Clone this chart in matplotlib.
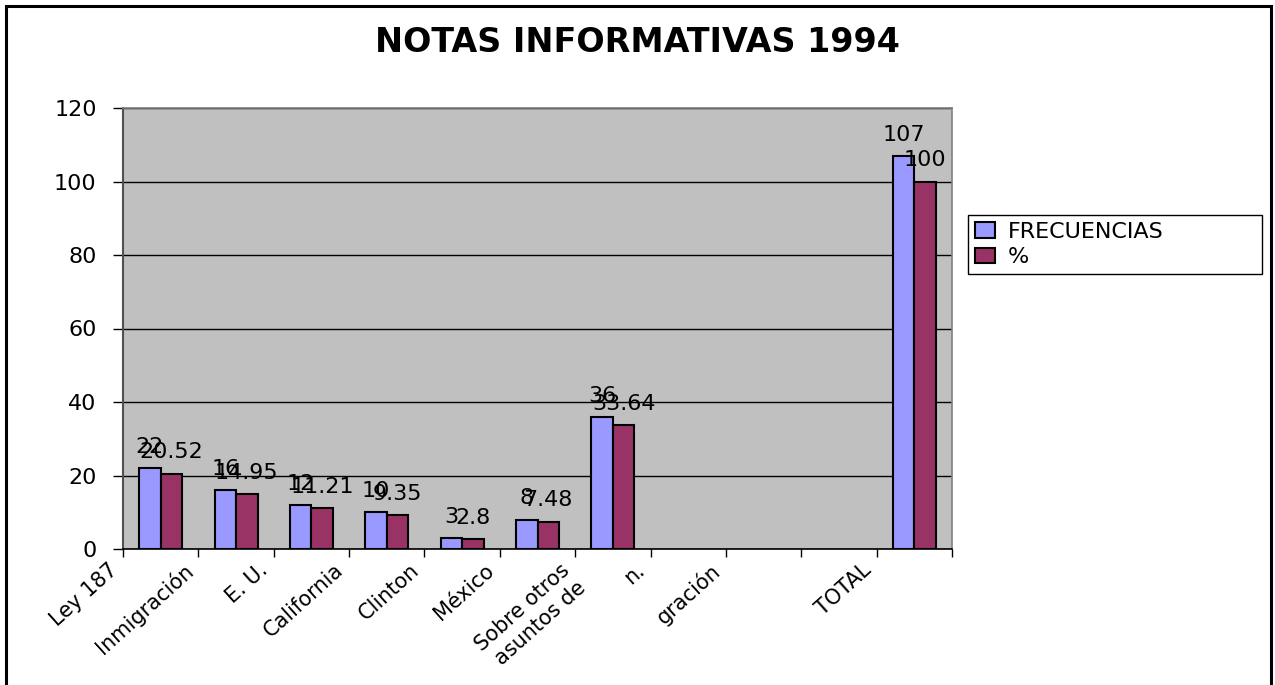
import numpy as np
import matplotlib as mpl
mpl.use('Agg')
import matplotlib.pyplot as plt
import matplotlib.transforms as mtransforms
from matplotlib.patches import Rectangle

# data (empty slots are blank categories in the sheet)
categories = ["Ley 187", "Inmigración", "E. U.", "California", "Clinton", "México",
              "Sobre otros\nasuntos de", "n.", "gración", "", "TOTAL"]
frecuencias = [22, 16, 12, 10, 3, 8, 36, np.nan, np.nan, np.nan, 107]
porcentajes = [20.52, 14.95, 11.21, 9.35, 2.8, 7.48, 33.64, np.nan, np.nan, np.nan, 100]
series_names = ["FRECUENCIAS", "%"]
yticks = [0, 20, 40, 60, 80, 100, 120]

plt.rcParams['font.family'] = ['DejaVu Sans']

fig = plt.figure(figsize=(12.75, 6.85), dpi=100)
ax = fig.add_axes([123 / 1275, 1 - 549 / 685, (952 - 123) / 1275, (549 - 108) / 685])
ax.set_facecolor('#C0C0C0')

x = np.arange(len(categories))
w = 0.285
b1 = ax.bar(x - w / 2, frecuencias, w, color='#9999FF', edgecolor='black', linewidth=1.5,
            label=series_names[0], zorder=3)
b2 = ax.bar(x + w / 2, porcentajes, w, color='#993366', edgecolor='black', linewidth=1.5,
            label=series_names[1], zorder=3)

def fmt(v):
    return '' if np.isnan(v) else '{:g}'.format(v)

ax.bar_label(b1, labels=[fmt(v) for v in frecuencias], padding=8, fontsize=16, zorder=4)
ax.bar_label(b2, labels=[fmt(v) for v in porcentajes], padding=8, fontsize=16, zorder=4)

ax.set_xlim(-0.5, len(categories) - 0.5)
ax.set_ylim(0, 120)
ax.set_yticks(yticks)
ax.yaxis.grid(True, color='black', linewidth=1, zorder=1)
ax.set_axisbelow(True)
ax.tick_params(axis='y', direction='out', length=7, width=1, pad=12, labelsize=16)

ax.set_xticks(x)
ax.set_xticklabels(categories, rotation=42, ha='right', va='top',
                   rotation_mode='anchor', fontsize=15, linespacing=1.25)
ax.set_xticks(np.arange(len(categories) + 1) - 0.5, minor=True)
ax.tick_params(axis='x', which='major', length=0, pad=8)
ax.tick_params(axis='x', which='minor', direction='out', length=6, width=1)
shift = mtransforms.ScaledTranslation(-38 / 72, 0, fig.dpi_scale_trans)
for lab in ax.get_xticklabels():
    lab.set_transform(lab.get_transform() + shift)

for side in ['top', 'right']:
    ax.spines[side].set_color('#808080')
    ax.spines[side].set_linewidth(1.2)
ax.spines['left'].set_color('#505050')
ax.spines['left'].set_linewidth(1.5)
ax.spines['bottom'].set_color('black')
ax.spines['bottom'].set_linewidth(1.2)

fig.text(0.5, 1 - 42 / 685, "NOTAS INFORMATIVAS 1994", ha='center', va='center',
         fontsize=24, fontweight='bold')

leg = fig.legend(handles=[b1, b2], loc='center left', mode='expand',
                 bbox_to_anchor=(968 / 1275, 1 - 277 / 685, 294 / 1275, 65 / 685),
                 fontsize=16, frameon=True, fancybox=False, framealpha=1,
                 edgecolor='black', handlelength=0.9, handleheight=0.7,
                 handletextpad=0.6, borderpad=0.3, labelspacing=0.25, borderaxespad=0)
leg.get_frame().set_linewidth(1)

# outer chart border
fig.patches.append(Rectangle((6 / 1275, -0.1), 1265 / 1275, 1.1 - 6 / 685,
                             transform=fig.transFigure, fill=False,
                             edgecolor='black', linewidth=2.2))

fig.savefig('out.png', dpi=100)
plt.close(fig)
